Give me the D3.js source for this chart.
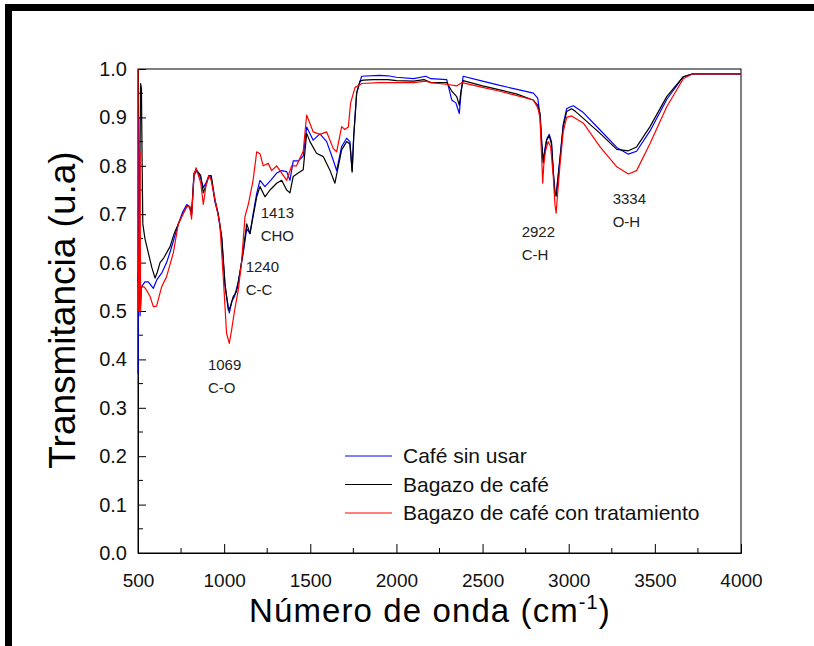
<!DOCTYPE html>
<html><head><meta charset="utf-8">
<script src="https://cdn.jsdelivr.net/npm/d3@7"></script>
<style>body{margin:0;background:#fff;overflow:hidden}svg{display:block}text{font-family:"Liberation Sans",Arial,sans-serif}</style>
</head><body>
<svg id="c" width="814" height="646"></svg>
<script>
// ---- data ----
const seriesNames = ["Café sin usar", "Bagazo de café", "Bagazo de café con tratamiento"];
const seriesColors = ["#0000ff", "#000000", "#ff0000"];
const xTicks = [500, 1000, 1500, 2000, 2500, 3000, 3500, 4000];
const yTicks = [0.0, 0.1, 0.2, 0.3, 0.4, 0.5, 0.6, 0.7, 0.8, 0.9, 1.0];

const cafeSinUsar = [[500,0.37],[502,0.65],[504,0.9],[507,0.55],[512,0.49],[520,0.55],[540,0.56],[560,0.56],[589,0.547],[610,0.565],[640,0.58],[666,0.6],[690,0.626],[734,0.68],[760,0.705],[783,0.72],[800,0.715],[811,0.7],[825,0.78],[840,0.79],[864,0.775],[879,0.755],[895,0.765],[912,0.78],[925,0.775],[947,0.725],[965,0.7],[986,0.65],[1005,0.55],[1030,0.496],[1045,0.52],[1060,0.53],[1082,0.56],[1111,0.62],[1131,0.67],[1150,0.66],[1168,0.7],[1189,0.743],[1208,0.77],[1237,0.757],[1270,0.77],[1305,0.785],[1334,0.79],[1363,0.788],[1382,0.77],[1401,0.81],[1430,0.81],[1459,0.82],[1479,0.88],[1517,0.853],[1556,0.866],[1595,0.85],[1633,0.812],[1653,0.79],[1682,0.84],[1711,0.857],[1730,0.85],[1743,0.79],[1752,0.86],[1769,0.95],[1790,0.975],[1798,0.985],[1900,0.987],[1950,0.986],[2000,0.983],[2100,0.98],[2170,0.985],[2200,0.98],[2292,0.978],[2321,0.936],[2345,0.93],[2365,0.908],[2375,0.95],[2387,0.985],[2500,0.975],[2600,0.966],[2700,0.958],[2795,0.95],[2820,0.94],[2835,0.9],[2843,0.85],[2852,0.81],[2862,0.835],[2872,0.855],[2887,0.865],[2900,0.85],[2912,0.78],[2920,0.745],[2927,0.74],[2940,0.785],[2949,0.815],[2968,0.885],[2988,0.918],[3010,0.922],[3027,0.924],[3085,0.91],[3182,0.874],[3279,0.838],[3346,0.824],[3394,0.83],[3472,0.872],[3569,0.937],[3665,0.984],[3720,0.99],[4000,0.99]];

const bagazo = [[500,0.56],[505,0.6],[510,0.75],[515,0.97],[520,0.96],[524,0.8],[528,0.68],[540,0.65],[560,0.62],[580,0.59],[599,0.568],[612,0.58],[628,0.6],[650,0.61],[686,0.633],[710,0.66],[734,0.68],[760,0.7],[783,0.716],[800,0.716],[811,0.698],[825,0.785],[840,0.791],[864,0.78],[879,0.744],[890,0.755],[912,0.78],[925,0.78],[947,0.729],[965,0.702],[986,0.653],[1005,0.557],[1024,0.502],[1035,0.508],[1053,0.53],[1072,0.54],[1092,0.58],[1111,0.626],[1131,0.68],[1150,0.66],[1168,0.695],[1189,0.736],[1208,0.757],[1237,0.736],[1266,0.75],[1305,0.764],[1334,0.77],[1363,0.75],[1382,0.744],[1401,0.778],[1430,0.785],[1459,0.792],[1479,0.867],[1498,0.85],[1536,0.826],[1575,0.819],[1614,0.791],[1643,0.764],[1663,0.8],[1682,0.833],[1711,0.85],[1730,0.845],[1743,0.787],[1752,0.86],[1769,0.95],[1788,0.975],[1808,0.977],[1866,0.978],[1950,0.978],[2000,0.976],[2100,0.975],[2160,0.978],[2200,0.972],[2292,0.972],[2320,0.955],[2350,0.943],[2365,0.925],[2375,0.955],[2387,0.976],[2500,0.965],[2600,0.957],[2700,0.948],[2793,0.936],[2820,0.925],[2833,0.909],[2843,0.847],[2852,0.806],[2862,0.83],[2872,0.853],[2887,0.862],[2900,0.845],[2912,0.78],[2920,0.744],[2927,0.737],[2940,0.78],[2949,0.812],[2968,0.881],[2988,0.912],[3017,0.918],[3040,0.912],[3085,0.898],[3182,0.867],[3279,0.834],[3346,0.831],[3394,0.839],[3472,0.881],[3569,0.943],[3665,0.984],[3720,0.99],[4000,0.99]];

const bagazoTratado = [[500,1.0],[501,0.55],[504,0.5],[508,0.6],[512,0.83],[515,0.5],[520,0.55],[535,0.55],[550,0.543],[570,0.53],[589,0.509],[608,0.51],[637,0.55],[665,0.57],[705,0.62],[734,0.68],[760,0.7],[783,0.716],[800,0.715],[811,0.69],[825,0.78],[837,0.796],[864,0.765],[879,0.72],[895,0.76],[912,0.78],[925,0.77],[947,0.73],[975,0.68],[995,0.57],[1014,0.454],[1030,0.433],[1043,0.46],[1060,0.5],[1082,0.543],[1101,0.6],[1121,0.695],[1140,0.72],[1168,0.77],[1189,0.829],[1208,0.825],[1227,0.8],[1256,0.805],[1276,0.79],[1305,0.8],[1334,0.785],[1363,0.77],[1392,0.8],[1420,0.8],[1459,0.83],[1479,0.905],[1517,0.87],[1556,0.865],[1595,0.87],[1633,0.836],[1653,0.829],[1682,0.881],[1700,0.875],[1721,0.88],[1734,0.93],[1760,0.962],[1800,0.97],[1900,0.972],[2000,0.972],[2100,0.972],[2170,0.975],[2200,0.972],[2300,0.968],[2350,0.965],[2380,0.972],[2500,0.962],[2600,0.954],[2700,0.945],[2795,0.936],[2820,0.92],[2833,0.9],[2845,0.8],[2849,0.764],[2855,0.8],[2865,0.83],[2880,0.85],[2895,0.84],[2910,0.78],[2920,0.72],[2927,0.702],[2935,0.74],[2949,0.8],[2968,0.87],[2988,0.9],[3017,0.903],[3085,0.888],[3182,0.839],[3279,0.798],[3346,0.783],[3394,0.79],[3472,0.846],[3569,0.922],[3665,0.98],[3720,0.99],[4000,0.99]];

const annotNumbers = ["1069", "1240", "1413", "2922", "3334"];
const annotGroups = ["C-O", "C-C", "CHO", "C-H", "O-H"];
// label anchor (wavenumber, transmittance) where each annotation starts
const annotAnchor = [[906, 0.378], [1125, 0.581], [1212, 0.692], [2727, 0.653], [3255, 0.721]];

// ---- drawing ----
const svg = d3.select("#c");
const x = d3.scaleLinear().domain([500, 4000]).range([138, 741]);
const y = d3.scaleLinear().domain([0, 1]).range([553, 69]);

// outer frame (left and top edges visible)
svg.append("path").attr("d", "M8.5,660 V7.5 H830").attr("fill", "none")
  .attr("stroke", "#000").attr("stroke-width", 7);

// plot box
svg.append("rect").attr("x", x(500)).attr("y", y(1)).attr("width", x(4000) - x(500)).attr("height", y(0) - y(1))
  .attr("fill", "none").attr("stroke", "#000").attr("stroke-width", 1);

// bottom axis (inward ticks)
const xAxis = d3.axisBottom(x).tickValues(xTicks).tickSize(-9).tickPadding(21).tickFormat(d3.format("d"));
const gx = svg.append("g").attr("transform", `translate(0,${y(0)})`).call(xAxis);
gx.selectAll(".tick text").attr("font-size", 19).attr("fill", "#111");
gx.select(".domain").attr("stroke", "#000");
const xMinor = d3.range(750, 4000, 500);
svg.append("g").selectAll("line").data(xMinor).join("line")
  .attr("x1", d => x(d)).attr("x2", d => x(d)).attr("y1", y(0)).attr("y2", y(0) - 5).attr("stroke", "#000");

// left axis
const yAxis = d3.axisLeft(y).tickValues(yTicks).tickSize(-8).tickPadding(11).tickFormat(d3.format(".1f"));
const gy = svg.append("g").attr("transform", `translate(${x(500)},0)`).call(yAxis);
gy.selectAll(".tick text").attr("font-size", 20).attr("fill", "#111");
const yMinor = d3.range(0.05, 1, 0.1);
svg.append("g").selectAll("line").data(yMinor).join("line")
  .attr("x1", x(500)).attr("x2", x(500) + 5).attr("y1", d => y(d)).attr("y2", d => y(d)).attr("stroke", "#000");

// lines
const line = d3.line().x(d => x(d[0])).y(d => y(d[1]));
[cafeSinUsar, bagazo, bagazoTratado].forEach((s, i) => {
  svg.append("path").datum(s).attr("d", line).attr("fill", "none")
    .attr("stroke", seriesColors[i]).attr("stroke-width", 1.2).attr("stroke-linejoin", "round");
});

// annotations
const ag = svg.append("g").attr("font-size", 15).attr("fill", "#222");
annotNumbers.forEach((n, i) => {
  const px = x(annotAnchor[i][0]), py = y(annotAnchor[i][1]);
  ag.append("text").attr("x", px).attr("y", py).text(n);
  ag.append("text").attr("x", px).attr("y", py + 23).text(annotGroups[i]);
});

// legend
const lg = svg.append("g");
seriesNames.forEach((n, i) => {
  const ly = 456 + i * 28.5;
  lg.append("line").attr("x1", 345).attr("x2", 392).attr("y1", ly).attr("y2", ly)
    .attr("stroke", seriesColors[i]).attr("stroke-width", 1.2);
  lg.append("text").attr("x", 403).attr("y", ly + 7).attr("font-size", 21).attr("fill", "#111").text(n);
});

// axis titles
const xt = svg.append("text").attr("x", 430).attr("y", 622).attr("text-anchor", "middle")
  .attr("font-size", 33).attr("letter-spacing", 1.1).attr("fill", "#000");
xt.append("tspan").text("Número de onda (cm");
xt.append("tspan").attr("font-size", 20).attr("dy", -13).text("-1");
xt.append("tspan").attr("dy", 13).text(")");

svg.append("text").attr("transform", "translate(75,310) rotate(-90)").attr("text-anchor", "middle")
  .attr("font-size", 37).attr("fill", "#000").text("Transmitancia (u.a)");
</script>
</body></html>
